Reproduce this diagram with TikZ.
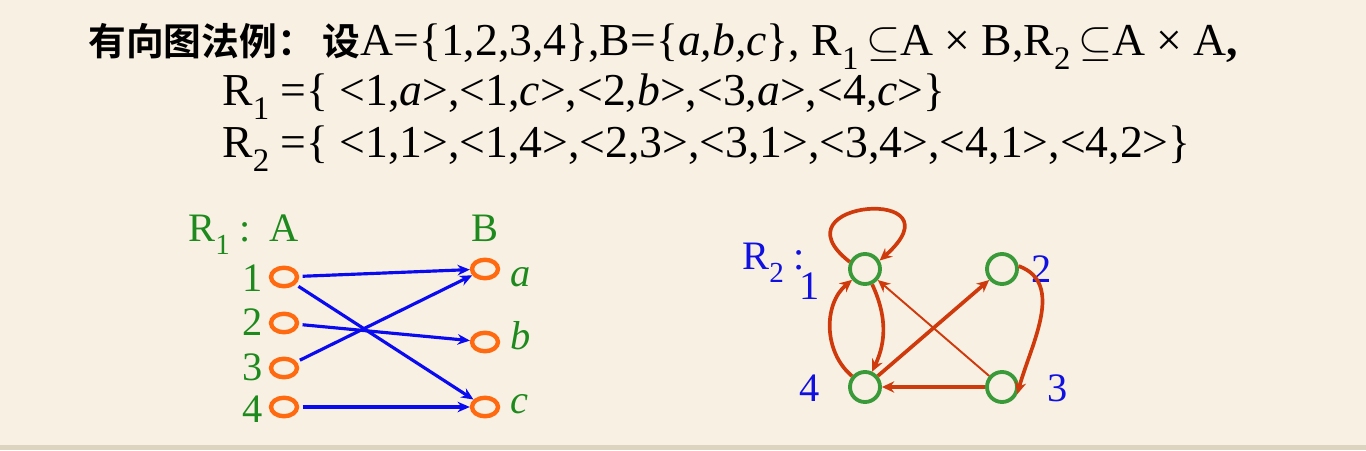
\documentclass[tikz,border=0pt]{standalone}
\usepackage{fontspec}
\setmainfont{Liberation Serif}
\newfontfamily\cjkbold{Noto Sans CJK SC Bold}
\usetikzlibrary{arrows.meta, positioning, shapes.geometric}
\definecolor{paper}{HTML}{F8F1E3}
\definecolor{paperedge}{HTML}{DDD4BF}
\definecolor{ptorange}{HTML}{FF6A10}
\definecolor{arrowblue}{HTML}{0A0AF0}
\definecolor{lblgreen}{HTML}{1E8A1E}
\definecolor{lblblue}{HTML}{1010E0}
\definecolor{vgreen}{HTML}{3A9A3A}
\definecolor{edgered}{HTML}{CF3A0C}
\newcommand\lowsub[1]{\raisebox{-0.3em}{\scalebox{0.72}{#1}}}
\begin{document}
\begin{tikzpicture}[
    x=0.02cm, y=0.02cm,
    set point/.style={
        ellipse,
        draw=ptorange,
        line width=2.5pt,
        minimum width=0.52cm,
        minimum height=0.37cm,
        inner sep=0pt,
    },
    pair arrow/.style={
        draw=arrowblue,
        line width=1.8pt,
        shorten <=2pt,
        -{Stealth[length=7pt,width=6pt]},
    },
    vertex/.style={
        circle,
        draw=vgreen,
        line width=2.2pt,
        minimum size=0.6cm,
        inner sep=0pt,
    },
    rel edge/.style={
        draw=edgered,
        line width=2.1pt,
        -{Stealth[length=7pt,width=6.5pt]},
    },
    tag/.style={
        inner sep=0pt,
        font=\fontsize{23}{26}\selectfont,
    },
    line text/.style={
        inner sep=0pt,
        anchor=base west,
        font=\fontsize{26}{30}\selectfont,
    }
]
\useasboundingbox (0,0) rectangle (1366,450);
\fill[paper] (0,0) rectangle (1366,450);
\fill[paperedge] (0,0) rectangle (1366,5);

\node[line text] (title) at (88,394) {{\cjkbold\fontsize{21.5}{26}\selectfont 有向图法例：\hspace{0.2em}设}A=\{1,2,3,4\},B=\{\textit{a,b,c}\}, R\lowsub{1}\,$\subseteq$A × B,R\lowsub{2}\,$\subseteq$A × A\textbf{,}};
\node[line text] (rone) at (222,344) {R\lowsub{1} =\{ <1,\textit{a}>,<1,\textit{c}>,<2,\textit{b}>,<3,\textit{a}>,<4,\textit{c}>\}};
\node[line text] (rtwo) at (222,292) {R\lowsub{2} =\{ <1,1>,<1,4>,<2,3>,<3,1>,<3,4>,<4,1>,<4,2>\}};

\node[tag, text=lblgreen, anchor=base west] (headA) at (188,208) {R\lowsub{1} :\hspace{0.45em}A};
\node[tag, text=lblgreen, anchor=base] (headB) at (485,208) {B};

\node[set point] (A1) at (284,173) {};
\node[set point] (A2) at (284,127) {};
\node[set point] (A3) at (284,82) {};
\node[set point] (A4) at (284,43) {};
\node[set point] (Ba) at (485,181) {};
\node[set point] (Bb) at (485,108) {};
\node[set point] (Bc) at (485,43) {};

\node[tag, text=lblgreen, anchor=base east] (nA1) at (263,158) {1};
\node[tag, text=lblgreen, anchor=base east] (nA2) at (263,114) {2};
\node[tag, text=lblgreen, anchor=base east] (nA3) at (263,70) {3};
\node[tag, text=lblgreen, anchor=base east] (nA4) at (263,28) {4};
\node[tag, text=lblgreen, anchor=base west] (nBa) at (510,163) {\textit{a}};
\node[tag, text=lblgreen, anchor=base west] (nBb) at (510,101) {\textit{b}};
\node[tag, text=lblgreen, anchor=base west] (nBc) at (510,37) {\textit{c}};

\draw[pair arrow] (A1) -- (Ba);
\draw[pair arrow] (A1) -- (Bc);
\draw[pair arrow] (A2) -- (Bb);
\draw[pair arrow] (A3) -- (Ba);
\draw[pair arrow] (A4) -- (Bc);

\node[tag, text=lblblue, anchor=base west] (headR) at (742,180) {R\lowsub{2} :};
\node[vertex] (N1) at (865,181) {};
\node[vertex] (N2) at (1002,181) {};
\node[vertex] (N3) at (1002,63) {};
\node[vertex] (N4) at (865,63) {};
\node[tag, text=lblblue, anchor=base] (nN1) at (810,151) {1};
\node[tag, text=lblblue, anchor=base] (nN2) at (1042,167) {2};
\node[tag, text=lblblue, anchor=base] (nN3) at (1058,49) {3};
\node[tag, text=lblblue, anchor=base] (nN4) at (810,49) {4};

\draw[rel edge] (N1.155) .. controls (770,250) and (965,265) .. (N1.30);
\draw[rel edge] (N1) to[bend left=25] (N4);
\draw[rel edge] (N4) to[bend left=50] (N1);
\draw[rel edge] (N2.10) to[out=-20,in=75] (N3.-25);
\draw[rel edge, line width=1.1pt] (N3) -- (N1);
\draw[rel edge] (N3) -- (N4);
\draw[rel edge] (N4) -- (N2);
\end{tikzpicture}
\end{document}
